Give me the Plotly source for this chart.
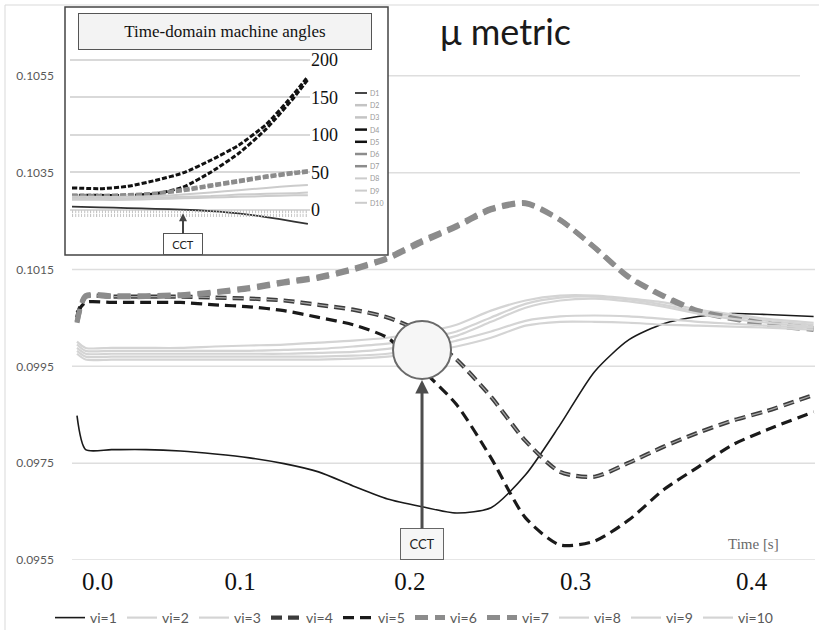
import plotly.graph_objects as go

# ---------------- main chart data (mu metric) ----------------
T = [0, 0.005, 0.02, 0.04, 0.06, 0.08, 0.10, 0.12, 0.14, 0.16, 0.18, 0.20,
     0.22, 0.24, 0.26, 0.28, 0.30, 0.32, 0.34, 0.36, 0.38, 0.40, 0.427]

VI1 = [0.09848, 0.09778, 0.09778, 0.09778, 0.09775, 0.09769, 0.09761, 0.09749, 0.09732, 0.09703, 0.09676, 0.09660,
       0.09647, 0.09658, 0.09726, 0.09829, 0.09939, 0.10005, 0.10038, 0.10053, 0.10059, 0.10057, 0.10053]
VI2 = [0.10001, 0.09988, 0.09988, 0.09988, 0.09988, 0.09991, 0.09993, 0.09995, 0.09999, 0.10003, 0.10009, 0.10020,
       0.10036, 0.10065, 0.10086, 0.10096, 0.10096, 0.10090, 0.10082, 0.10067, 0.10057, 0.10048, 0.10040]
VI3 = [0.09995, 0.09982, 0.09982, 0.09982, 0.09982, 0.09982, 0.09982, 0.09984, 0.09986, 0.09991, 0.09997, 0.10007,
       0.10022, 0.10051, 0.10079, 0.10092, 0.10094, 0.10088, 0.10077, 0.10063, 0.10053, 0.10044, 0.10036]
VI4 = [0.10051, 0.10094, 0.10094, 0.10094, 0.10094, 0.10092, 0.10090, 0.10086, 0.10077, 0.10067, 0.10051, 0.10020,
       0.09964, 0.09887, 0.09796, 0.09732, 0.09722, 0.09751, 0.09784, 0.09813, 0.09838, 0.09858, 0.09891]
VI5 = [0.10061, 0.10082, 0.10082, 0.10082, 0.10082, 0.10077, 0.10073, 0.10065, 0.10051, 0.10036, 0.10009, 0.09943,
       0.09871, 0.09761, 0.09637, 0.09581, 0.09589, 0.09633, 0.09695, 0.09742, 0.09788, 0.09819, 0.09856]
VI6 = [0.10042, 0.10096, 0.10096, 0.10096, 0.10098, 0.10104, 0.10113, 0.10125, 0.10135, 0.10152, 0.10175, 0.10210,
       0.10241, 0.10276, 0.10288, 0.10253, 0.10195, 0.10133, 0.10094, 0.10063, 0.10048, 0.10036, 0.10026]
VI7 = [0.10040, 0.10094, 0.10094, 0.10094, 0.10096, 0.10102, 0.10110, 0.10122, 0.10132, 0.10149, 0.10172, 0.10206,
       0.10238, 0.10273, 0.10286, 0.10252, 0.10196, 0.10135, 0.10096, 0.10065, 0.10050, 0.10038, 0.10028]
VI8 = [0.09988, 0.09976, 0.09976, 0.09976, 0.09976, 0.09976, 0.09976, 0.09976, 0.09978, 0.09980, 0.09986, 0.09997,
       0.10013, 0.10042, 0.10071, 0.10086, 0.10090, 0.10084, 0.10073, 0.10059, 0.10048, 0.10040, 0.10032]
VI9 = [0.09982, 0.09970, 0.09970, 0.09970, 0.09970, 0.09970, 0.09970, 0.09970, 0.09970, 0.09972, 0.09976, 0.09986,
       0.10003, 0.10022, 0.10044, 0.10053, 0.10055, 0.10053, 0.10048, 0.10042, 0.10038, 0.10034, 0.10030]
VI10 = [0.09976, 0.09964, 0.09964, 0.09964, 0.09964, 0.09964, 0.09964, 0.09964, 0.09964, 0.09966, 0.09970, 0.09978,
        0.09991, 0.10009, 0.10034, 0.10042, 0.10042, 0.10040, 0.10036, 0.10034, 0.10032, 0.10030, 0.10026]

VI_NAMES = ["vi=1", "vi=2", "vi=3", "vi=4", "vi=5", "vi=6", "vi=7", "vi=8", "vi=9", "vi=10"]
VI_SERIES = [VI1, VI2, VI3, VI4, VI5, VI6, VI7, VI8, VI9, VI10]

Y_TICKS = [0.0955, 0.0975, 0.0995, 0.1015, 0.1035, 0.1055]
X_TICK_POS = [0.012, 0.0945, 0.193, 0.289, 0.391]
X_TICK_TEXT = ["0.0", "0.1", "0.2", "0.3", "0.4"]

CCT_TIME = 0.2
CIRCLE_VALUE = 0.09984
CCT_ARROW_VALUE = 0.09922

# ---------------- inset data (machine angles) ----------------
T_INSET = [0, 0.05, 0.10, 0.15, 0.20, 0.25, 0.30, 0.35, 0.40, 0.425]
D1 = [4, 3, 2, 1, 0, -2, -5, -10, -16, -19]
D2 = [-3, -3, -3, -3, -3, -3, -3, -3, -3, -3]
D3 = [-8, -8, -8, -8, -8, -8, -8, -8, -8, -8]
D4 = [29, 28, 31, 39, 49, 66, 86, 114, 155, 178]
D5 = [19, 19, 19, 21, 30, 50, 75, 108, 150, 174]
D6 = [19, 19, 20, 22, 27, 33, 39, 45, 50, 52]
D7 = [18, 18, 19, 21, 25, 31, 37, 43, 48, 50]
D8 = [17, 17, 17, 18, 20, 23, 26, 29, 32, 33]
D9 = [15, 15, 15, 16, 17, 18, 20, 21, 22, 23]
D10 = [13, 13, 13, 14, 15, 16, 17, 18, 19, 19]
D_NAMES = ["D1", "D2", "D3", "D4", "D5", "D6", "D7", "D8", "D9", "D10"]
D_SERIES = [D1, D2, D3, D4, D5, D6, D7, D8, D9, D10]
INSET_TICKS = [0, 50, 100, 150, 200]

# ---------------- geometry helpers (pixels -> paper) ----------------
W, H = 819, 630
ML, MR, MT, MB = 10, 4, 5, 70
PW = W - ML - MR
PH = H - MT - MB


def px(x):
    return (x - ML) / PW


def py(y):
    return (H - MB - y) / PH


LIGHT = "#d4d4d4"
vi_styles = {
    "vi=1": dict(color="#1a1a1a", width=1.6),
    "vi=2": dict(color=LIGHT, width=2.2),
    "vi=3": dict(color=LIGHT, width=2.2),
    "vi=4": dict(color="#3c3c3c", width=4.2, dash="11px,6px"),
    "vi=5": dict(color="#1a1a1a", width=3.2, dash="11px,6px"),
    "vi=6": dict(color="#8c8c8c", width=5, dash="13px,7px"),
    "vi=7": dict(color="#8c8c8c", width=5, dash="13px,7px"),
    "vi=8": dict(color=LIGHT, width=2.2),
    "vi=9": dict(color=LIGHT, width=2.2),
    "vi=10": dict(color=LIGHT, width=2.2),
}

d_styles = {
    "D1": dict(color="#333333", width=1.8),
    "D2": dict(color="#c4c4c4", width=3, dash="1px,2px"),
    "D3": dict(color="#c4c4c4", width=3, dash="1px,2px"),
    "D4": dict(color="#111111", width=3, dash="5px,2px"),
    "D5": dict(color="#111111", width=3, dash="5px,2px"),
    "D6": dict(color="#8c8c8c", width=3.2, dash="6px,2px"),
    "D7": dict(color="#8c8c8c", width=3.2, dash="6px,2px"),
    "D8": dict(color="#cccccc", width=2),
    "D9": dict(color="#cccccc", width=2),
    "D10": dict(color="#cccccc", width=2),
}

fig = go.Figure()

for name, vals in zip(VI_NAMES, VI_SERIES):
    fig.add_trace(go.Scatter(
        x=T, y=vals, mode="lines", name=name,
        line=dict(shape="spline", smoothing=0.7, **vi_styles[name]),
        legendgroup=name, hoverinfo="skip",
    ))
    if name == "vi=4":
        fig.add_trace(go.Scatter(
            x=T, y=vals, mode="lines", name=name, showlegend=False,
            line=dict(shape="spline", smoothing=0.7, color="#a8a8a8", width=1.2, dash="11px,6px"),
            legendgroup=name, hoverinfo="skip",
        ))

# empty spacer entry so the last legend label is not clipped
fig.add_trace(go.Scatter(x=[None], y=[None], mode="lines", name=" ",
                         line=dict(color="rgba(0,0,0,0)", width=0), hoverinfo="skip"))

for name, vals in zip(D_NAMES, D_SERIES):
    fig.add_trace(go.Scatter(
        x=T_INSET, y=vals, mode="lines", name=name, showlegend=False,
        xaxis="x2", yaxis="y2",
        line=dict(shape="spline", smoothing=0.6, **d_styles[name]),
        hoverinfo="skip",
    ))

shapes = []
# frame
shapes.append(dict(type="rect", xref="paper", yref="paper", x0=px(5), x1=1.05, y0=-0.3, y1=py(5),
                   line=dict(color="#d9d9d9", width=1), fillcolor="rgba(0,0,0,0)", layer="below"))
# main gridlines (drawn around the inset)
inset_bottom_value = 0.1018
for v in Y_TICKS:
    x0 = px(388) if v > inset_bottom_value else px(72)
    x1 = px(800) if v > inset_bottom_value else 1.0
    shapes.append(dict(type="line", xref="paper", yref="y", x0=x0, x1=x1, y0=v, y1=v,
                       line=dict(color="#dedede", width=1.5), layer="below"))
# inset frame
shapes.append(dict(type="rect", xref="paper", yref="paper", x0=px(65), x1=px(388), y0=py(255), y1=py(7),
                   line=dict(color="#444444", width=1.5), fillcolor="white", layer="below"))
# CCT circle
shapes.append(dict(type="circle", xref="x", yref="y", xsizemode="pixel", ysizemode="pixel",
                   xanchor=CCT_TIME, yanchor=CIRCLE_VALUE, x0=-29, x1=29, y0=-29, y1=29,
                   fillcolor="#f6f6f6", line=dict(color="#6a6a6a", width=2), layer="above"))
# inset legend keys
for i, name in enumerate(D_NAMES):
    yy = 93 + i * 12.2
    st = d_styles[name]
    shapes.append(dict(type="line", xref="paper", yref="paper", x0=px(355), x1=px(367), y0=py(yy), y1=py(yy),
                       line=dict(color=st["color"], width=min(st["width"], 2.5))))

annotations = []
annotations.append(dict(text="μ metric", xref="paper", yref="paper", x=px(506), y=py(31),
                        xanchor="center", yanchor="middle",
                        showarrow=False, font=dict(family="Lato", size=36, color="#1a1a1a")))
annotations.append(dict(text="Time-domain machine angles", xref="paper", yref="paper",
                        x=px(225), y=py(32), xanchor="center", yanchor="middle",
                        showarrow=False, width=290, height=33, borderpad=1,
                        bgcolor="#f3f3f3", bordercolor="#555555", borderwidth=1,
                        font=dict(family="Liberation Serif", size=17, color="#111111")))
annotations.append(dict(text="CCT", xref="x", yref="y", x=CCT_TIME, y=CCT_ARROW_VALUE,
                        ax=0, ay=164, showarrow=True, arrowhead=2, arrowsize=0.9, arrowwidth=3,
                        arrowcolor="#4d4d4d", width=40, height=28, borderpad=1,
                        bgcolor="#f6f6f6", bordercolor="#666666", borderwidth=1,
                        font=dict(family="Lato", size=13, color="#222222")))
annotations.append(dict(text="CCT", xref="x2", yref="y2", x=CCT_TIME, y=-5,
                        ax=0, ay=31, showarrow=True, arrowhead=2, arrowsize=0.8, arrowwidth=2,
                        arrowcolor="#444444", width=36, height=18, borderpad=1,
                        bgcolor="white", bordercolor="#555555", borderwidth=1,
                        font=dict(family="Lato", size=11, color="#222222")))
annotations.append(dict(text="Time [s]", xref="paper", yref="paper", x=px(753), y=py(544),
                        xanchor="center", yanchor="middle",
                        showarrow=False, font=dict(family="Liberation Serif", size=15, color="#6a6a6a")))
for i, name in enumerate(D_NAMES):
    yy = 93 + i * 12.2
    annotations.append(dict(text=name, xref="paper", yref="paper", x=px(368), y=py(yy),
                            xanchor="left", yanchor="middle", showarrow=False,
                            font=dict(family="Lato", size=7, color="#999999")))

fig.update_layout(
    width=W, height=H,
    margin=dict(l=ML, r=MR, t=MT, b=MB, autoexpand=False),
    paper_bgcolor="white", plot_bgcolor="rgba(0,0,0,0)",
    showlegend=True,
    legend=dict(orientation="h", x=px(50), xanchor="left", y=py(602), yanchor="top",
                font=dict(family="Lato", size=14, color="#595959"),
                entrywidth=27, entrywidthmode="pixels", itemwidth=30,
                bgcolor="rgba(0,0,0,0)", traceorder="normal"),
    xaxis=dict(domain=[px(72), 1.0], range=[-0.0029, 0.4278], showgrid=False, zeroline=False,
               showline=False, ticks="", tickvals=X_TICK_POS, ticktext=X_TICK_TEXT, automargin=False,
               tickfont=dict(family="Liberation Serif", size=25, color="#111111"),
               ticklabelstandoff=4),
    yaxis=dict(domain=[0, py(10)], range=[0.0955, 0.10686], showgrid=False, zeroline=False,
               showline=False, ticks="", tickvals=Y_TICKS, tickformat=".4f", automargin=False,
               tickfont=dict(family="Lato", size=12, color="#595959"), ticklabelstandoff=17),
    xaxis2=dict(domain=[px(70), px(310)], range=[-0.0036, 0.4288], anchor="y2", automargin=False,
                showgrid=False, zeroline=False, showline=False, showticklabels=False, ticks=""),
    yaxis2=dict(domain=[py(249.2), py(57.8)], range=[-53, 203], anchor="x2", side="right",
                automargin=False,
                showgrid=True, gridcolor="#d9d9d9", gridwidth=2, zeroline=False, showline=False,
                ticks="", tickvals=INSET_TICKS,
                tickfont=dict(family="Liberation Serif", size=18, color="#111111")),
    shapes=shapes,
    annotations=annotations,
)

fig.write_html("out.html", config={"displayModeBar": False},
               post_script="document.body.style.margin='0';")
